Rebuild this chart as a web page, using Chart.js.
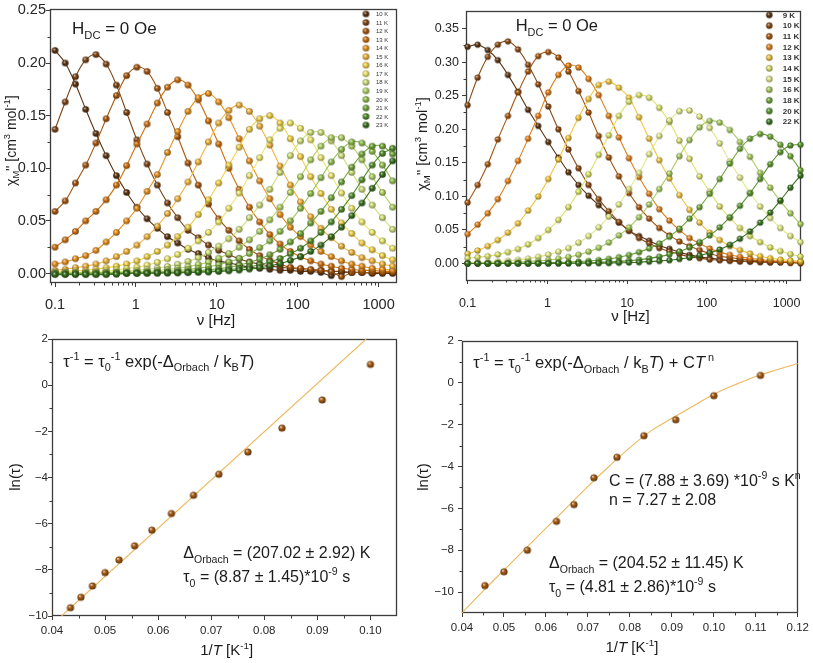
<!DOCTYPE html>
<html><head><meta charset="utf-8">
<script src="https://cdn.jsdelivr.net/npm/chart.js@4.4.1/dist/chart.umd.min.js"></script>
<style>
html,body{margin:0;padding:0;background:#fff}
body{width:813px;height:663px;position:relative;overflow:hidden}
canvas{position:absolute}
</style></head><body>
<canvas id="c1" width="405" height="330" style="left:0px;top:0px"></canvas>
<canvas id="c2" width="408" height="330" style="left:405px;top:0px"></canvas>
<canvas id="c3" width="405" height="333" style="left:0px;top:330px"></canvas>
<canvas id="c4" width="408" height="333" style="left:405px;top:330px"></canvas>
<script>
// ---------------- DATA ----------------
const freqHz = [0.1,0.1338,0.179,0.2396,0.3206,0.429,0.574,0.768,1.028,1.375,1.84,2.46,3.29,4.41,5.9,7.89,10.56,14.1,18.9,25.3,33.9,45.3,60.6,81.1,108.5,145,194,260,348,466,623,834,1116,1493];

// top-left panel (chi'' in cm3/mol), 10 K ... 23 K
const tempsA = ['10 K','11 K','12 K','13 K','14 K','15 K','16 K','17 K','18 K','19 K','20 K','21 K','22 K','23 K'];
const chiA10 = [0.212,0.200,0.180,0.156,0.133,0.112,0.093,0.077,0.063,0.052,0.043,0.035,0.029,0.023,0.019,0.015,0.012,0.010,0.008,0.006,0.005,0.004,0.003,0.003,0.002,0.002,0.001,-0.002,0.001,0.001,0.001,0.000,0.000,0.000];
const chiA11 = [0.137,0.163,0.187,0.203,0.208,0.199,0.179,0.153,0.127,0.104,0.084,0.067,0.053,0.041,0.034,0.027,0.022,0.018,0.014,0.011,0.009,0.007,0.006,0.005,0.004,0.003,0.003,0.002,0.002,0.001,0.001,0.001,0.001,0.001];
const chiA12 = [0.059,0.069,0.086,0.103,0.124,0.147,0.169,0.188,0.196,0.192,0.176,0.153,0.130,0.105,0.084,0.066,0.052,0.041,0.031,0.023,0.017,0.0125,0.009,0.006,0.005,0.004,0.003,0.002,-0.003,0.001,0.001,0.001,0.001,0.001];
const chiA13 = [0.025,0.032,0.040,0.050,0.059,0.070,0.084,0.1025,0.123,0.142,0.162,0.177,0.184,0.179,0.165,0.145,0.123,0.100,0.080,0.063,0.049,0.037,0.028,0.021,0.016,0.012,0.009,0.007,0.005,0.004,0.003,0.003,0.002,0.002];
const chiA14 = [0.009,0.011,0.014,0.017,0.022,0.030,0.039,0.050,0.062,0.078,0.094,0.115,0.135,0.154,0.167,0.171,0.163,0.148,0.128,0.107,0.088,0.071,0.056,0.044,0.035,0.027,0.021,0.016,0.012,0.009,0.007,0.005,0.004,0.003];
const chiA15 = [0.003,0.004,0.0055,0.007,0.009,0.012,0.016,0.021,0.027,0.035,0.045,0.057,0.071,0.087,0.106,0.125,0.143,0.155,0.160,0.154,0.140,0.122,0.102,0.084,0.068,0.054,0.043,0.034,0.026,0.020,0.015,0.012,0.009,0.007];
const chiA16 = [0.0015,0.002,0.0025,0.003,0.004,0.0054,0.007,0.009,0.012,0.016,0.021,0.027,0.035,0.044,0.056,0.070,0.086,0.103,0.120,0.137,0.147,0.150,0.143,0.128,0.111,0.092,0.076,0.061,0.048,0.038,0.029,0.0225,0.017,0.013];
const chiA17 = [0.001,0.001,0.0012,0.0016,0.002,0.0027,0.0036,0.0047,0.006,0.008,0.0106,0.014,0.018,0.024,0.031,0.039,0.049,0.062,0.0765,0.093,0.110,0.127,0.138,0.143,0.138,0.127,0.110,0.093,0.0765,0.062,0.049,0.039,0.031,0.024];
const chiA18 = [0.0006,0.0007,0.0008,0.001,0.001,0.0013,0.0017,0.0023,0.003,0.004,0.005,0.0067,0.0088,0.0115,0.015,0.020,0.026,0.033,0.042,0.053,0.065,0.080,0.096,0.112,0.126,0.134,0.134,0.126,0.112,0.096,0.080,0.065,0.053,0.042];
const chiA19 = [0.0004,0.0005,0.0005,0.0006,0.0007,0.0008,0.001,0.0013,0.0017,0.0022,0.0029,0.0038,0.005,0.0065,0.0085,0.011,0.0146,0.019,0.025,0.032,0.040,0.051,0.063,0.077,0.092,0.108,0.121,0.129,0.129,0.121,0.108,0.092,0.077,0.063];
const chiA20 = [0.0002,0.0002,0.0003,0.0003,0.0004,0.0005,0.0006,0.0008,0.001,0.0013,0.0017,0.0022,0.0029,0.0038,0.0049,0.0064,0.0084,0.011,0.0145,0.019,0.0245,0.031,0.040,0.050,0.062,0.076,0.091,0.106,0.118,0.125,0.124,0.116,0.103,0.088];
const chiA21 = [0.0001,0.0001,0.0001,0.0002,0.0002,0.0003,0.0003,0.0004,0.0005,0.0007,0.0009,0.0012,0.0016,0.002,0.0027,0.0035,0.0046,0.006,0.0079,0.0104,0.0137,0.0178,0.023,0.030,0.038,0.048,0.059,0.072,0.087,0.101,0.1135,0.121,0.121,0.1135];
const chiA22 = [-0.0005,-0.0005,-0.0005,-0.0005,-0.0005,-0.0004,0.0002,0.0002,0.0003,0.0004,0.0005,0.0007,0.0009,0.0012,0.0016,0.0021,0.0028,0.0037,0.0048,0.0063,0.0083,0.011,0.0143,0.0187,0.024,0.031,0.039,0.049,0.061,0.074,0.089,0.103,0.114,0.119];
const chiA23 = [-0.001,-0.001,-0.001,-0.001,-0.001,-0.001,-0.0008,0.0002,0.0002,0.0003,0.0004,0.0005,0.0006,0.0008,0.0011,0.0014,0.0019,0.0025,0.0032,0.0042,0.0055,0.0072,0.0094,0.0124,0.016,0.021,0.027,0.035,0.044,0.055,0.067,0.081,0.094,0.107];

// top-right panel, 9 K ... 22 K
const tempsB = ['9 K','10 K','11 K','12 K','13 K','14 K','15 K','16 K','18 K','20 K','22 K'];
const chiB9  = [0.323,0.326,0.318,0.303,0.281,0.256,0.229,0.205,0.181,0.158,0.136,0.117,0.101,0.087,0.073,0.061,0.049,0.041,0.034,0.027,0.022,0.017,0.013,0.010,0.008,0.006,0.005,0.004,0.003,0.003,0.002,0.002,0.002,0.001];
const chiB10 = [0.236,0.277,0.308,0.326,0.331,0.319,0.296,0.267,0.234,0.200,0.170,0.142,0.117,0.096,0.078,0.062,0.049,0.038,0.030,0.023,0.018,0.014,0.010,0.008,0.006,0.005,0.004,0.003,0.003,0.002,0.002,0.002,0.001,0.001];
const chiB11 = [0.091,0.117,0.148,0.185,0.220,0.255,0.286,0.309,0.315,0.307,0.286,0.257,0.225,0.190,0.158,0.130,0.105,0.084,0.067,0.053,0.042,0.033,0.026,0.020,0.015,0.011,0.009,0.007,0.005,0.004,0.003,0.003,0.002,0.002];
const chiB12 = [0.044,0.058,0.075,0.096,0.123,0.153,0.186,0.220,0.255,0.281,0.295,0.292,0.275,0.251,0.220,0.188,0.157,0.129,0.104,0.081,0.064,0.050,0.038,0.030,0.0225,0.017,0.013,0.010,0.0077,0.006,0.0045,0.0035,0.0027,0.002];
const chiB13 = [0.0146,0.0195,0.026,0.035,0.046,0.060,0.079,0.100,0.126,0.155,0.187,0.217,0.245,0.266,0.271,0.262,0.247,0.218,0.186,0.154,0.127,0.102,0.080,0.061,0.046,0.035,0.026,0.020,0.015,0.011,0.008,0.006,0.0045,0.0035];
const chiB14 = [0.008,0.0095,0.011,0.0135,0.017,0.0216,0.0286,0.038,0.050,0.065,0.084,0.107,0.133,0.162,0.191,0.220,0.241,0.251,0.247,0.232,0.211,0.183,0.156,0.130,0.107,0.085,0.068,0.053,0.041,0.032,0.024,0.0186,0.014,0.0105];
const chiB15 = [0.0013,0.0017,0.0023,0.003,0.004,0.0055,0.0073,0.010,0.0133,0.0176,0.023,0.031,0.041,0.054,0.070,0.088,0.111,0.135,0.163,0.190,0.213,0.227,0.228,0.219,0.202,0.179,0.152,0.128,0.105,0.085,0.068,0.053,0.041,0.032];
const chiB16 = [0.0006,0.0008,0.001,0.0012,0.0016,0.0022,0.003,0.004,0.0053,0.0072,0.0098,0.0132,0.0177,0.0236,0.0315,0.042,0.054,0.069,0.088,0.111,0.134,0.160,0.184,0.203,0.2125,0.210,0.199,0.181,0.159,0.135,0.113,0.093,0.075,0.059];
const chiB18 = [0.0001,0.0002,0.0002,0.0003,0.0004,0.0005,0.0007,0.0009,0.0012,0.0016,0.0021,0.0029,0.0039,0.0052,0.007,0.0095,0.0127,0.017,0.0226,0.030,0.040,0.052,0.067,0.084,0.104,0.126,0.149,0.171,0.186,0.193,0.189,0.177,0.160,0.139];
const chiB20 = [0.0001,0.0001,0.0001,0.0001,0.0001,0.0002,0.0002,0.0003,0.0004,0.0005,0.0007,0.001,0.0013,0.0018,0.0024,0.0032,0.0043,0.0057,0.0077,0.0103,0.0137,0.018,0.024,0.032,0.042,0.054,0.069,0.086,0.105,0.126,0.148,0.166,0.176,0.177];
const chiB22 = [0.0001,0.0001,0.0001,0.0001,0.0001,0.0001,0.0001,0.0002,0.0002,0.0003,0.0003,0.0004,0.0005,0.0006,0.0008,0.0011,0.0015,0.002,0.0028,0.0038,0.005,0.0068,0.009,0.012,0.016,0.021,0.028,0.037,0.048,0.061,0.076,0.094,0.113,0.131];

// bottom-left panel: ln(tau) vs 1/T, Orbach fit
const invTA  = [0.04348,0.04545,0.04762,0.05,0.05263,0.05556,0.05882,0.0625,0.06667,0.07143,0.07692,0.08333,0.09091,0.1];
const lnTauA = [-9.64,-9.19,-8.70,-8.12,-7.57,-6.96,-6.28,-5.56,-4.77,-3.86,-2.90,-1.86,-0.64,0.90];
const fitAx  = [0.0418,0.0992];
const fitAy  = [-10,2];

// bottom-right panel: ln(tau) vs 1/T, Orbach + Raman fit
const invTB  = [0.04545,0.05,0.05556,0.0625,0.06667,0.07143,0.07692,0.08333,0.09091,0.1,0.1111];
const lnTauB = [-9.69,-9.03,-8.00,-6.62,-5.82,-4.54,-3.56,-2.53,-1.77,-0.62,0.35];
const fitBx  = [0.040,0.045,0.050,0.055,0.060,0.065,0.070,0.075,0.080,0.085,0.090,0.095,0.100,0.105,0.110,0.115,0.120];
const fitBy  = [-11.0,-9.95,-8.95,-7.95,-6.95,-5.95,-4.95,-4.0,-3.1,-2.3,-1.7,-1.12,-0.55,-0.1,0.3,0.62,0.92];

// tick values
const xTicksLog   = [0.1,1,10,100,1000];
const xMinorLog   = [0.09,0.2,0.3,0.4,0.5,0.6,0.7,0.8,0.9,2,3,4,5,6,7,8,9,20,30,40,50,60,70,80,90,200,300,400,500,600,700,800,900];
const yTicksA     = [0,0.05,0.10,0.15,0.20,0.25];
const yMinorA     = [0.025,0.075,0.125,0.175,0.225];
const yTicksB     = [0,0.05,0.10,0.15,0.20,0.25,0.30,0.35];
const yMinorB     = [0.025,0.075,0.125,0.175,0.225,0.275,0.325];
const xTicksC     = [0.04,0.05,0.06,0.07,0.08,0.09,0.10];
const xMinorC     = [0.045,0.055,0.065,0.075,0.085,0.095];
const yTicksC     = [-10,-8,-6,-4,-2,0,2];
const yMinorC     = [-9,-7,-5,-3,-1,1];
const xTicksD     = [0.04,0.05,0.06,0.07,0.08,0.09,0.10,0.11,0.12];
const xMinorD     = [0.045,0.055,0.065,0.075,0.085,0.095,0.105,0.115];
const yTicksD     = [-10,-8,-6,-4,-2,0,2];
const yMinorD     = [-9,-7,-5,-3,-1,1];

// ---------------- STYLE ----------------
const FAMILY = '"Liberation Sans", Arial, Helvetica, sans-serif';
const AXIS = '#3c3c3c';
const colorsA = ['#5a3412','#7c4416','#a5560f','#cf700e','#e8911f','#f1b43e','#f3d148','#ede86c','#d0e07c','#b3d366','#93c050','#72a83b','#528e2b','#386f1d'];
const colorsB = ['#5a3412','#8a4a14','#a5560f','#e0801a','#f2c63e','#dde46a','#e2ea88','#a9cd5f','#6fa83a','#5a9630','#3a7420'];
const seriesA = [chiA10,chiA11,chiA12,chiA13,chiA14,chiA15,chiA16,chiA17,chiA18,chiA19,chiA20,chiA21,chiA22,chiA23];
const seriesB = [chiB9,chiB10,chiB11,chiB12,chiB13,chiB14,chiB15,chiB16,chiB18,chiB20,chiB22];

function rgbOf(h){h=h.replace('#','');return [0,2,4].map(i=>parseInt(h.slice(i,i+2),16));}
function mix(c1,c2,t){const a=rgbOf(c1),b=rgbOf(c2);return 'rgb('+a.map((v,i)=>Math.round(v+(b[i]-v)*t)).join(',')+')';}
function sphere(color,r){
  const s=Math.ceil(2*r)+2, c=document.createElement('canvas'); c.width=c.height=s;
  const g=c.getContext('2d'), cx=s/2, cy=s/2;
  const gr=g.createRadialGradient(cx-r*0.35,cy-r*0.4,r*0.05,cx,cy,r);
  gr.addColorStop(0,mix(color,'#ffffff',0.75)); gr.addColorStop(0.42,color); gr.addColorStop(1,mix(color,'#000000',0.45));
  g.fillStyle=gr; g.beginPath(); g.arc(cx,cy,r,0,2*Math.PI); g.fill(); return c;
}
function fontFor(st,size){const small=(st==='sub'||st==='sup');const fs=small?size*0.66:size;return (st==='i'?'italic ':'')+fs.toFixed(2)+'px '+FAMILY;}
function richWidth(ctx,parts,size){let w=0;for(const [t,st] of parts){ctx.font=fontFor(st,size);w+=ctx.measureText(t).width;}return w;}
function drawRich(ctx,parts,x,y,size,align,subOff){
  const so = subOff===undefined?0.3:subOff;
  ctx.save(); ctx.textBaseline='alphabetic'; ctx.textAlign='left'; ctx.fillStyle='#1c1c1c';
  let cx=x; if(align==='center') cx=x-richWidth(ctx,parts,size)/2;
  for(const [t,st] of parts){ctx.font=fontFor(st,size);let dy=0;if(st==='sub')dy=size*so;if(st==='sup')dy=-size*0.42;ctx.fillText(t,cx,y+dy);cx+=ctx.measureText(t).width;}
  ctx.restore();
}
// baseX: x position of the text baseline (rotated text reads bottom-to-top)
function drawRichRot(ctx,parts,baseX,cy,size,subOff){ctx.save();ctx.translate(baseX,cy);ctx.rotate(-Math.PI/2);drawRich(ctx,parts,0,0,size,'center',subOff);ctx.restore();}

function framePlugin(minX,minY){return {id:'frameMinor',beforeDatasetsDraw(chart){
  const ctx=chart.ctx,a=chart.chartArea; ctx.save(); ctx.strokeStyle=AXIS; ctx.lineWidth=1.3;
  ctx.strokeRect(Math.round(a.left)+0.5,Math.round(a.top)+0.5,Math.round(a.right-a.left)-1,Math.round(a.bottom-a.top)-1);
  ctx.lineWidth=1; ctx.beginPath();
  for(const v of minX){const p=Math.round(chart.scales.x.getPixelForValue(v))+0.5;ctx.moveTo(p,a.bottom);ctx.lineTo(p,a.bottom+2.5);}
  for(const v of minY){const p=Math.round(chart.scales.y.getPixelForValue(v))+0.5;ctx.moveTo(a.left,p);ctx.lineTo(a.left-2.5,p);}
  ctx.stroke(); ctx.restore();}};}
function textPlugin(fn){return {id:'texts',afterDraw(chart){fn(chart.ctx,chart);}};}

function options(o){
  return {responsive:false,animation:false,devicePixelRatio:1,events:[],
    layout:{padding:o.pad},
    plugins:{legend:{display:false},tooltip:{enabled:false}},
    scales:{
      x:{type:o.xType,bounds:'data',min:o.xMin,max:o.xMax,
        afterBuildTicks:ax=>{ax.ticks=o.xTicks.map(v=>({value:v}));},
        afterFit:s=>{s.height=o.xH;},
        ticks:{autoSkip:false,maxRotation:0,minRotation:0,padding:o.xPad,color:'#262626',font:{family:FAMILY,size:o.fs},callback:o.xFmt},
        grid:{drawOnChartArea:false,drawTicks:true,tickLength:4,color:AXIS,lineWidth:1},
        border:{display:false}},
      y:{type:'linear',bounds:'data',min:o.yMin,max:o.yMax,
        afterBuildTicks:ax=>{ax.ticks=o.yTicks.map(v=>({value:v}));},
        afterFit:s=>{s.width=o.yW;},
        ticks:{autoSkip:false,padding:o.yPad,color:'#262626',font:{family:FAMILY,size:o.fs},callback:o.yFmt},
        grid:{drawOnChartArea:false,drawTicks:true,tickLength:4,color:AXIS,lineWidth:1},
        border:{display:false}}
    }};
}
const fmtLog = v => String(v);
const fmt2 = v => v.toFixed(2);
const fmtInt = v => (v<0?'\u2212':'')+Math.abs(v);

function acDatasets(series,colors,r){
  return series.map((vals,i)=>({
    data: freqHz.map((f,k)=>({x:f,y:vals[k]})),
    borderColor: colors[i], borderWidth:1.1, tension:0.35,
    pointStyle: sphere(colors[i],r), pointRadius:r, clip:false, fill:false
  })).reverse();
}

const yTitle = [['\u03c7','n'],['M','sub'],["'' [cm",'n'],['3','sup'],[' mol','n'],['-1','sup'],[']','n']];
const xTitleNu = [['\u03bd [Hz]','n']];
const hdc = [['H','n'],['DC','sub'],[' = 0 Oe','n']];
const lnTau = [['ln(\u03c4)','n']];
const invT = [['1/','n'],['T','i'],[' [K','n'],['-1','sup'],[']','n']];
const formulaA = [['\u03c4','n'],['-1','sup'],[' = \u03c4','n'],['0','sub'],['-1','sup'],[' exp(-\u0394','n'],['Orbach','sub'],[' / k','n'],['B','sub'],['T','i'],[')','n']];
const formulaB = formulaA.concat([[' + C','n'],['T','i'],[' n','sup']]);

// ---- chart 1 (top-left) ----
new Chart(document.getElementById('c1'),{type:'line',
  data:{datasets:acDatasets(seriesA,colorsA,3.3)},
  options:options({pad:{left:0,top:5,right:8,bottom:0},xType:'logarithmic',xMin:0.0867,xMax:1689,xTicks:xTicksLog,xH:47,xPad:9,xFmt:fmtLog,
    yMin:-0.009,yMax:0.2516,yTicks:yTicksA,yW:50,yPad:0,yFmt:fmt2,fs:14.5}),
  plugins:[framePlugin(xMinorLog,yMinorA),textPlugin((ctx)=>{
    drawRich(ctx,hdc,72,34.3,17);
    drawRichRot(ctx,yTitle,16,140.7,14,0.2);
    drawRich(ctx,xTitleNu,216,325,15,'center');
    ctx.save(); ctx.font='6px '+FAMILY; ctx.fillStyle='#333'; ctx.textBaseline='middle';
    tempsA.forEach((t,i)=>{const y=14+i*8.54; const im=sphere(colorsA[i],3.3); ctx.drawImage(im,366-im.width/2,y-im.height/2); ctx.fillText(t,376,y+0.5);});
    ctx.restore();
  })]
});

// ---- chart 2 (top-right) ----
new Chart(document.getElementById('c2'),{type:'line',
  data:{datasets:acDatasets(seriesB,colorsB,3.1)},
  options:options({pad:{left:0,top:7,right:11,bottom:0},xType:'logarithmic',xMin:0.0955,xMax:1520,xTicks:xTicksLog,xH:50,xPad:12,xFmt:fmtLog,
    yMin:-0.0245,yMax:0.3769,yTicks:yTicksB,yW:61,yPad:3,yFmt:fmt2,fs:12.5}),
  plugins:[framePlugin(xMinorLog.filter(v=>v>0.0955),yMinorB),textPlugin((ctx)=>{
    drawRich(ctx,hdc,110.7,30.7,16.5);
    drawRichRot(ctx,yTitle,22,144,14.5,0.2);
    drawRich(ctx,xTitleNu,225.5,321,15,'center');
    ctx.save(); ctx.font='bold 8px '+FAMILY; ctx.fillStyle='#333'; ctx.textBaseline='middle';
    tempsB.forEach((t,i)=>{const y=15+i*10.67; const im=sphere(colorsB[i],3.2); ctx.drawImage(im,364.3-im.width/2,y-im.height/2); ctx.fillText(t,377.7,y+0.5);});
    ctx.restore();
  })]
});

// ---- chart 3 (bottom-left) ----
const ptColor = '#a65a12', fitColor = '#ecb85c';
new Chart(document.getElementById('c3'),{type:'line',
  data:{datasets:[
    {data:invTA.map((x,i)=>({x:x,y:lnTauA[i]})),showLine:false,pointStyle:sphere(ptColor,3.6),pointRadius:3.6,clip:false},
    {data:fitAx.map((x,i)=>({x:x,y:fitAy[i]})),borderColor:fitColor,borderWidth:1.1,pointRadius:0,tension:0}
  ]},
  options:options({pad:{left:0,top:9,right:8,bottom:0},xType:'linear',xMin:0.04,xMax:0.105,xTicks:xTicksC,xH:47,xPad:4,xFmt:fmt2,
    yMin:-10,yMax:2,yTicks:yTicksC,yW:52,yPad:0,yFmt:fmtInt,fs:11.5}),
  plugins:[framePlugin(xMinorC,yMinorC),textPlugin((ctx)=>{
    drawRich(ctx,formulaA,63.3,36.5,16.5);
    drawRich(ctx,[['\u0394','n'],['Orbach','sub'],[' = (207.02 \u00b1 2.92) K','n']],183.3,227.7,16);
    drawRich(ctx,[['\u03c4','n'],['0','sub'],[' = (8.87 \u00b1 1.45)*10','n'],['-9','sup'],[' s','n']],183.3,251.7,16);
    drawRichRot(ctx,lnTau,19.5,147,15);
    drawRich(ctx,invT,226.7,325,15,'center');
  })]
});

// ---- chart 4 (bottom-right) ----
new Chart(document.getElementById('c4'),{type:'line',
  data:{datasets:[
    {data:invTB.map((x,i)=>({x:x,y:lnTauB[i]})),showLine:false,pointStyle:sphere(ptColor,3.6),pointRadius:3.6,clip:false},
    {data:fitBx.map((x,i)=>({x:x,y:fitBy[i]})),borderColor:fitColor,borderWidth:1.1,pointRadius:0,tension:0.4}
  ]},
  options:options({pad:{left:0,top:9,right:11,bottom:0},xType:'linear',xMin:0.04,xMax:0.12,xTicks:xTicksD,xH:50,xPad:4,xFmt:fmt2,
    yMin:-11,yMax:2,yTicks:yTicksD,yW:57,yPad:4,yFmt:fmtInt,fs:11.5}),
  plugins:[framePlugin(xMinorD,yMinorD),textPlugin((ctx)=>{
    drawRich(ctx,formulaB,68.3,38.3,16.5);
    drawRich(ctx,[['C = (7.88 \u00b1 3.69) *10','n'],['-9','sup'],[' s K','n'],['n','sup']],204,155.7,16);
    drawRich(ctx,[['n = 7.27 \u00b1 2.08','n']],204,175,16);
    drawRich(ctx,[['\u0394','n'],['Orbach','sub'],[' = (204.52 \u00b1 11.45) K','n']],144,238.3,16);
    drawRich(ctx,[['\u03c4','n'],['0','sub'],[' = (4.81 \u00b1 2.86)*10','n'],['-9','sup'],[' s','n']],144,262,16);
    drawRichRot(ctx,lnTau,22.5,147,15);
    drawRich(ctx,invT,227,322,15,'center');
  })]
});
</script>
</body></html>
